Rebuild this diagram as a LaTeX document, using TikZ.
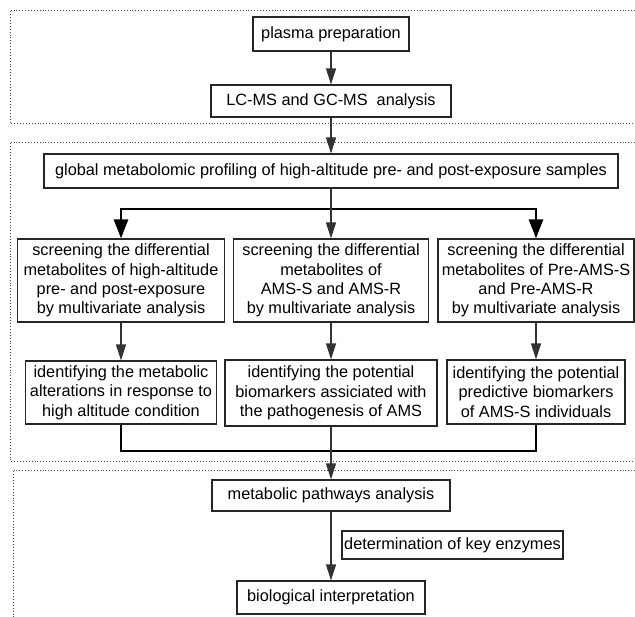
\documentclass[tikz,border=0pt]{standalone}
\usepackage{fontspec}
\setmainfont{Liberation Sans}
\usetikzlibrary{arrows.meta}

\begin{document}
\begin{tikzpicture}[x=1pt, y=-1pt,
	box/.style={draw=black!85, line width=1.1pt, align=center, inner sep=0pt, font=\fontsize{16.3}{19.3}\selectfont},
	flow/.style={draw=black!80, line width=1.2pt, -{Triangle[width=10pt,length=16pt]}},
	branch/.style={draw=black, line width=2.6pt},
	frame/.style={draw=black!70, dotted, line width=0.9pt}]
	\useasboundingbox (0,0) rectangle (635,617);
	\draw[frame] (635,10) -- (10,10) -- (10,123) -- (635,123);
	\draw[frame] (635,142) -- (10,142) -- (10,461) -- (635,461);
	\draw[frame] (635,470) -- (13,470) -- (13,617);
	\node[box, minimum width=156pt, minimum height=34pt] (prep) at (331,34) {plasma preparation};
	\node[box, minimum width=240pt, minimum height=32pt] (lcms) at (331,101) {LC-MS and GC-MS\ \ analysis};
	\node[box, minimum width=574pt, minimum height=34pt] (global) at (331,171) {global metabolomic profiling of high-altitude pre- and post-exposure samples};
	\node[box, minimum width=207pt, minimum height=83pt] (screenA) at (121,280.5) {screening the differential\\metabolites of high-altitude\\pre- and post-exposure\\by multivariate analysis};
	\node[box, minimum width=195pt, minimum height=83pt] (screenB) at (331,280.5) {screening the differential\\metabolites of\\AMS-S and AMS-R\\by multivariate analysis};
	\node[box, minimum width=196pt, minimum height=83pt] (screenC) at (536,280.5) {screening the differential\\metabolites of Pre-AMS-S\\and Pre-AMS-R\\by multivariate analysis};
	\node[box, minimum width=191pt, minimum height=63pt] (identA) at (121,392.5) {identifying the metabolic\\alterations in response to\\high altitude condition};
	\node[box, minimum width=212pt, minimum height=66pt] (identB) at (331,393) {identifying the potential\\biomarkers assiciated with\\the pathogenesis of AMS};
	\node[box, minimum width=178pt, minimum height=64pt] (identC) at (536,392) {identifying the potential\\predictive biomarkers\\of AMS-S individuals};
	\node[box, minimum width=238pt, minimum height=31pt] (pathway) at (331,495.5) {metabolic pathways analysis};
	\node[box, minimum width=221pt, minimum height=28pt] (enzyme) at (452.5,545) {determination of key enzymes};
	\node[box, minimum width=188pt, minimum height=33pt] (interp) at (331,597.5) {biological interpretation};
	\coordinate (split) at (331,209);
	\coordinate (merge) at (331,451);
	\draw[flow] (prep) -- (lcms);
	\draw[flow] (lcms) -- (global);
	\foreach \col in {A,C}
		\draw[branch, -{Triangle[width=14pt,length=19pt]}] (split) -- (screen\col.north |- split) -- (screen\col.north);
	\draw[flow] (global) -- (screenB);
	\foreach \col in {A,B,C}
		\draw[flow] (screen\col) -- (ident\col);
	\foreach \col in {A,C}
		\draw[branch] (ident\col.south) -- (ident\col.south |- merge) -- (merge);
	\draw[flow] (identB) -- (pathway);
	\draw[flow] (pathway) -- (interp);
\end{tikzpicture}
\end{document}
